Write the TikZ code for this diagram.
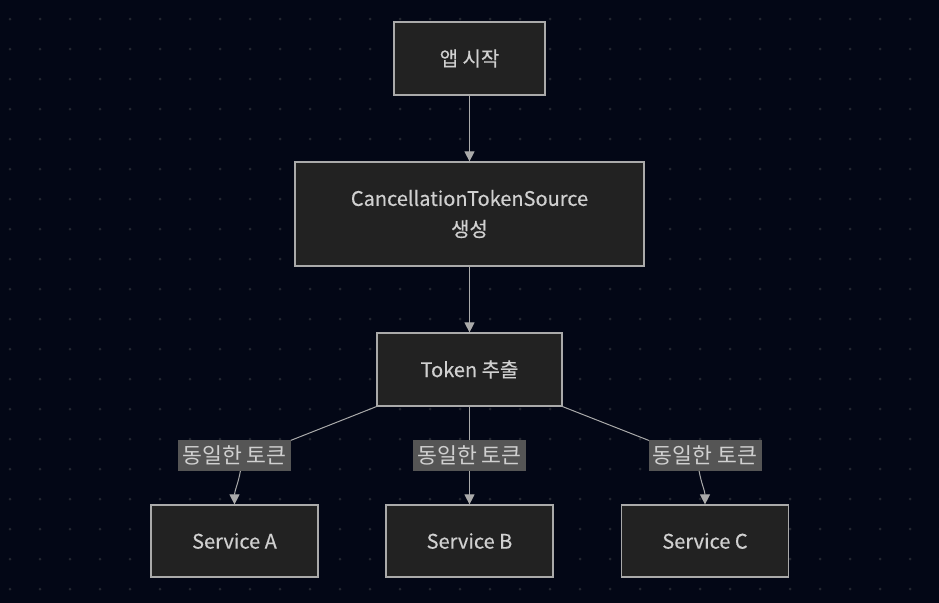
\documentclass[tikz,border=0pt]{standalone}
\usepackage{fontspec}
\setmainfont{Noto Sans CJK KR}
\newfontfamily\boxfont[FakeBold=0.35]{Noto Sans CJK KR}
\usepackage{xcolor}
\usepackage{tikz}
\usetikzlibrary{positioning, calc, arrows.meta}

\definecolor{bgnavy}{HTML}{030716}
\definecolor{dotgray}{HTML}{23262F}
\definecolor{boxfill}{HTML}{222222}
\definecolor{boxline}{HTML}{AAAAAA}
\definecolor{textgray}{HTML}{D0D0D0}
\definecolor{labelfill}{HTML}{555555}

\begin{document}
\begin{tikzpicture}[x=0.75pt, y=-0.75pt,
				FlowNode/.style={rectangle, draw=boxline, fill=boxfill, line width=0.9pt, text=textgray, font=\boxfont\fontsize{15}{23}\selectfont, align=center, inner sep=0pt},
				TokenLabel/.style={rectangle, fill=labelfill, text=textgray, font=\fontsize{16.2}{18}\selectfont, minimum width=84.75pt, minimum height=23.25pt, inner sep=0pt},
				FlowLine/.style={draw=boxline, line width=0.75pt, -{Triangle[length=7.5pt, width=7.5pt]}}]

			% Background
			\fill[bgnavy] (0,0) rectangle (939,603);
			\useasboundingbox (0,0) rectangle (939,603);
			\foreach \x in {10,40,...,940}
				\foreach \y in {19,49,...,603}
					\fill[dotgray] (\x,\y) circle (1.5);

			% Nodes
			\node[FlowNode, minimum width=113.25pt, minimum height=54.75pt] (AppStart) at (469.5,58.5) {앱 시작};
			\node[FlowNode, minimum width=261.75pt, minimum height=78pt] (CtsCreate) at (469.5,214) {CancellationTokenSource\\생성};
			\node[FlowNode, minimum width=138.75pt, minimum height=54.75pt] (TokenGet) at (469.5,369.5) {Token 추출};

			\node[FlowNode, minimum width=125.25pt, minimum height=54pt] (SvcA) at (234.5,541) {Service A};
			\node[FlowNode, minimum width=125.25pt, minimum height=54pt] (SvcB) at (469.5,541) {Service B};
			\node[FlowNode, minimum width=125.25pt, minimum height=54pt] (SvcC) at (705,541) {Service C};

			\coordinate (LabA) at (234.5,455.5);
			\coordinate (LabB) at (469.5,455.5);
			\coordinate (LabC) at (705,455.5);

			% Lines
			\draw[FlowLine] (AppStart) to (CtsCreate);
			\draw[FlowLine] (CtsCreate) to (TokenGet);
			\draw[FlowLine] (TokenGet.south west) -- ($(LabA)+(56,-15)$) -- ($(LabA)+(6,15)$) to[out=-100, in=90] (SvcA.north);
			\draw[FlowLine] (TokenGet) to (SvcB);
			\draw[FlowLine] (TokenGet.south east) -- ($(LabC)+(-56,-15)$) -- ($(LabC)+(-6,15)$) to[out=-80, in=90] (SvcC.north);

			% Labels
			\node[TokenLabel] (SameA) at (LabA) {동일한 토큰};
			\node[TokenLabel] (SameB) at (LabB) {동일한 토큰};
			\node[TokenLabel] (SameC) at (LabC) {동일한 토큰};
		\end{tikzpicture}
\end{document}
